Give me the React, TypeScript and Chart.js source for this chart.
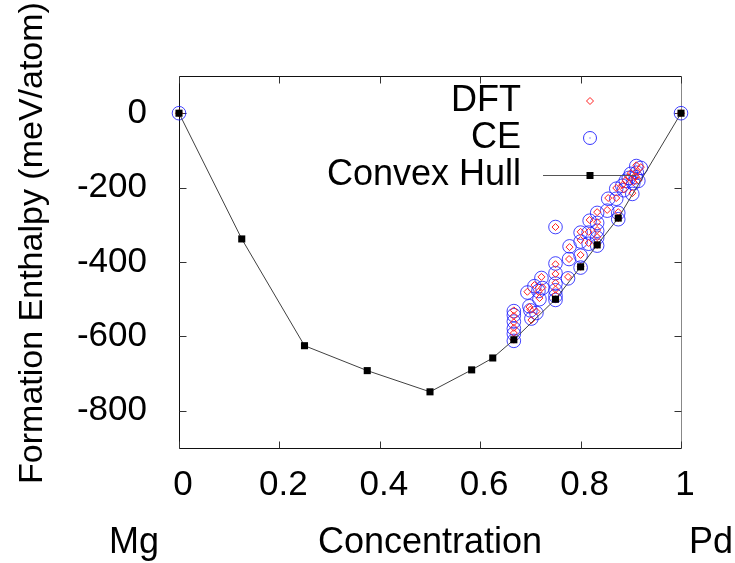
import React, { useEffect, useRef } from 'react';
import { Chart, registerables } from 'chart.js';

Chart.register(...registerables);

// Convex hull (concentration of Pd, formation enthalpy meV/atom)
const hullX = [0, 0.125, 0.25, 0.375, 0.5, 0.583, 0.625, 0.667, 0.75, 0.8, 0.833, 0.875, 1];
const hullY = [0, -338, -625, -692, -749, -690, -658, -609, -500, -413, -354, -282, 0];

// DFT structures
const dftX = [0, 1, 0.667, 0.667, 0.667, 0.667, 0.667, 0.667, 0.694, 0.698, 0.7, 0.702, 0.708, 0.712, 0.716, 0.718, 0.722, 0.724,
  0.75, 0.75, 0.75, 0.75, 0.75, 0.75, 0.75, 0.775, 0.777, 0.778, 0.8, 0.8, 0.8, 0.8, 0.816, 0.816, 0.818,
  0.833, 0.833, 0.833, 0.833, 0.833, 0.853, 0.855, 0.875, 0.875, 0.871, 0.871, 0.883, 0.89, 0.9, 0.903, 0.905,
  0.911, 0.912, 0.915, 0.92, 0.91, 0.886, 0.896];
const dftY = [0, 0, -609, -591, -577, -562, -545, -530, -480, -521, -528, -556, -462, -533, -480, -497, -440, -468,
  -500, -489, -474, -456, -432, -406, -306, -440, -392, -360, -413, -381, -341, -319, -349, -319, -287,
  -354, -333, -314, -293, -266, -260, -228, -282, -266, -228, -201, -193, -180, -161, -215, -185,
  -140, -158, -180, -145, -170, -205, -172];

// Cluster expansion predictions
const ceX = [0, 1, 0.667, 0.667, 0.667, 0.667, 0.667, 0.667, 0.694, 0.698, 0.7, 0.702, 0.708, 0.712, 0.716, 0.718, 0.722, 0.724,
  0.75, 0.75, 0.75, 0.75, 0.75, 0.75, 0.75, 0.775, 0.777, 0.778, 0.8, 0.8, 0.8, 0.8, 0.816, 0.816, 0.818,
  0.833, 0.833, 0.833, 0.833, 0.833, 0.853, 0.855, 0.875, 0.875, 0.871, 0.871, 0.883, 0.89, 0.9, 0.903, 0.905,
  0.911, 0.912, 0.915, 0.92, 0.91, 0.886, 0.896];
const ceY = [0, 0, -612, -593, -579, -560, -543, -532, -482, -519, -530, -552, -465, -537, -478, -500, -443, -470,
  -502, -491, -476, -458, -430, -404, -306, -444, -392, -358, -415, -383, -345, -321, -351, -321, -289,
  -356, -335, -316, -295, -268, -262, -230, -285, -268, -230, -203, -195, -182, -163, -217, -188,
  -142, -160, -182, -147, -172, -207, -174];

const xTicks = [0, 0.2, 0.4, 0.6, 0.8, 1];
const yTicks = [-800, -600, -400, -200, 0];

const FONT = "'Liberation Sans', Arial, sans-serif";

const toPts = (xs: number[], ys: number[]) => xs.map((x, i) => ({ x, y: ys[i] }));

const decorPlugin = {
  id: 'decor',
  beforeDatasetsDraw(chart: any) {
    const { ctx, chartArea: a, scales } = chart;
    const L = Math.round(a.left) + 0.5;
    const R = Math.round(a.right) + 0.5;
    const T = Math.round(a.top) + 0.5;
    const B = Math.round(a.bottom) + 0.5;
    ctx.save();
    ctx.lineWidth = 1;
    ctx.strokeStyle = '#111';
    ctx.beginPath();
    ctx.moveTo(R, T); ctx.lineTo(L, T); ctx.lineTo(L, B); ctx.lineTo(R, B);
    ctx.stroke();
    ctx.strokeStyle = '#888';
    ctx.beginPath();
    ctx.moveTo(R, T); ctx.lineTo(R, B);
    ctx.stroke();
    ctx.strokeStyle = '#333';
    ctx.beginPath();
    const tl = 7;
    xTicks.forEach((v) => {
      const px = Math.round(scales.x.getPixelForValue(v)) + 0.5;
      ctx.moveTo(px, B); ctx.lineTo(px, B - tl);
      ctx.moveTo(px, T); ctx.lineTo(px, T + tl);
    });
    yTicks.forEach((v) => {
      const py = Math.round(scales.y.getPixelForValue(v)) + 0.5;
      ctx.moveTo(L, py); ctx.lineTo(L + tl, py);
      ctx.moveTo(R, py); ctx.lineTo(R - tl, py);
    });
    ctx.stroke();
    ctx.restore();
  },
  afterDraw(chart: any) {
    const { ctx, chartArea: a } = chart;
    ctx.save();
    ctx.fillStyle = '#000';
    // y title
    ctx.font = `34px ${FONT}`;
    ctx.textAlign = 'center';
    ctx.textBaseline = 'alphabetic';
    ctx.save();
    ctx.translate(42, 243);
    ctx.rotate(-Math.PI / 2);
    ctx.fillText('Formation Enthalpy (meV/atom)', 0, 0);
    ctx.restore();
    // bottom labels
    ctx.font = `36px ${FONT}`;
    ctx.textAlign = 'left';
    ctx.fillText('Mg', 109, 553);
    ctx.fillText('Pd', 689, 553);
    ctx.textAlign = 'center';
    ctx.fillText('Concentration', (a.left + a.right) / 2, 553);
    // legend
    ctx.font = `36px ${FONT}`;
    ctx.textAlign = 'right';
    ctx.textBaseline = 'middle';
    const tx = 521;
    const mx = 590;
    const rows = [101, 138, 175];
    ctx.fillText('DFT', tx, rows[0]);
    ctx.fillText('CE', tx, rows[1]);
    ctx.fillText('Convex Hull', tx, rows[2]);
    // DFT marker
    ctx.lineWidth = 1;
    ctx.strokeStyle = '#ff2020';
    ctx.beginPath();
    const d = 3.5;
    ctx.moveTo(mx - d, rows[0]); ctx.lineTo(mx, rows[0] - d); ctx.lineTo(mx + d, rows[0]); ctx.lineTo(mx, rows[0] + d); ctx.closePath();
    ctx.stroke();
    // CE marker
    ctx.strokeStyle = 'rgba(20,20,255,0.85)';
    ctx.beginPath();
    ctx.arc(mx, rows[1], 6.5, 0, Math.PI * 2);
    ctx.stroke();
    ctx.fillStyle = 'rgba(20,20,255,0.85)';
    ctx.fillRect(mx - 0.5, rows[1] - 0.5, 1, 1);
    // Hull marker
    ctx.strokeStyle = '#555';
    ctx.beginPath();
    ctx.moveTo(543, rows[2] + 0.5); ctx.lineTo(636, rows[2] + 0.5);
    ctx.stroke();
    ctx.fillStyle = '#000';
    ctx.fillRect(mx - 3.5, rows[2] - 3, 7, 7);
    ctx.restore();
  },
};

export default function App() {
  const ref = useRef<HTMLCanvasElement | null>(null);
  useEffect(() => {
    if (!ref.current) return;
    const chart = new Chart(ref.current, {
      type: 'scatter',
      data: {
        datasets: [
          {
            label: 'Convex Hull',
            data: toPts(hullX, hullY),
            showLine: true,
            borderColor: '#404040',
            borderWidth: 1,
            pointStyle: 'rect',
            pointRadius: 5,
            pointBackgroundColor: '#000',
            pointBorderColor: '#000',
            pointBorderWidth: 0,
            clip: false,
          } as any,
          {
            label: 'DFT',
            data: toPts(dftX, dftY),
            pointStyle: 'rectRot',
            pointRadius: 3.5,
            pointBackgroundColor: 'rgba(0,0,0,0)',
            pointBorderColor: '#ff2020',
            pointBorderWidth: 1,
            clip: false,
          } as any,
          {
            label: 'CE',
            data: toPts(ceX, ceY),
            pointStyle: 'circle',
            pointRadius: 6.8,
            pointBackgroundColor: 'rgba(0,0,0,0)',
            pointBorderColor: 'rgba(20,20,255,0.8)',
            pointBorderWidth: 1,
            clip: false,
          } as any,
        ],
      },
      options: {
        animation: false,
        responsive: false,
        devicePixelRatio: 1,
        layout: { padding: { left: 0, right: 54, top: 76, bottom: 0 } },
        plugins: { legend: { display: false }, tooltip: { enabled: false } },
        scales: {
          x: {
            type: 'linear',
            min: 0,
            max: 1,
            grid: { display: false },
            border: { display: false },
            afterBuildTicks: (s: any) => { s.ticks = xTicks.map((v) => ({ value: v })); },
            afterFit: (s: any) => { s.height = 115; },
            ticks: {
              color: '#000',
              font: { family: FONT, size: 35 },
              padding: 8,
              labelOffset: 4,
              maxRotation: 0,
              autoSkip: false,
              callback: (v: any) => String(v),
            },
          },
          y: {
            type: 'linear',
            min: -900,
            max: 100,
            grid: { display: false },
            border: { display: false },
            afterBuildTicks: (s: any) => { s.ticks = yTicks.map((v) => ({ value: v })); },
            afterFit: (s: any) => { s.width = 179; },
            ticks: {
              color: '#000',
              font: { family: FONT, size: 35 },
              padding: 24,
              autoSkip: false,
              callback: (v: any) => String(v),
            },
          },
        },
      } as any,
      plugins: [decorPlugin],
    });
    return () => chart.destroy();
  }, []);
  return (
    <div style={{ position: 'fixed', left: 0, top: 0, width: 735, height: 563, background: '#fff' }}>
      <canvas ref={ref} width={735} height={563} style={{ display: 'block' }} />
    </div>
  );
}
